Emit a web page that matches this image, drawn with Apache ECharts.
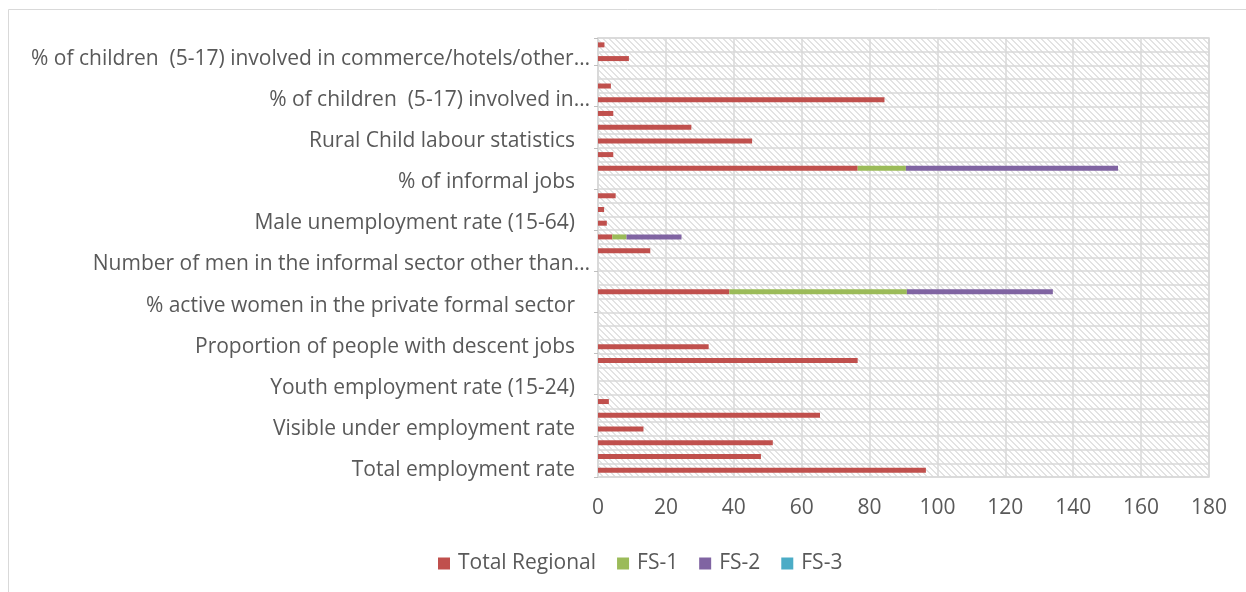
<!DOCTYPE html>
<html>
<head>
<meta charset="utf-8">
<script src="https://cdn.jsdelivr.net/npm/echarts@6/dist/echarts.min.js"></script>
<style>
  html, body { margin: 0; padding: 0; background: #ffffff; }
  #chart { width: 1246px; height: 592px; }
</style>
</head>
<body>
<div id="chart"></div>
<script>
// Indicator rows, bottom to top. Only every third row carries a visible label.
const categories = [
  'Total employment rate', '', '',
  'Visible under employment rate', '', '',
  'Youth employment rate (15-24)', '', '',
  'Proportion of people with descent jobs', '', '',
  '% active women in the private formal sector', '', '',
  'Number of men in the informal sector other than…', '', '',
  'Male unemployment rate (15-64)', '', '',
  '% of informal jobs', '', '',
  'Rural Child labour statistics', '', '',
  '% of children  (5-17) involved in…', '', '',
  '% of children  (5-17) involved in commerce/hotels/other…', ''
];

const totalRegional = [
  96.6, 48, 51.5, 13.4, 65.4, 3.2, null, null, 76.5, 32.6,
  null, null, null, 38.7, null, null, 15.4, 4.2, 2.6, 1.8,
  5.2, null, 76.5, 4.5, 45.4, 27.5, 4.5, 84.4, 3.8, null,
  9.1, 1.9
];

const fs1 = [
  null, null, null, null, null, null, null, null, null, null,
  null, null, null, 52.3, null, null, null, 4.2, null, null,
  null, null, 14.2, null, null, null, null, null, null, null,
  null, null
];

const fs2 = [
  null, null, null, null, null, null, null, null, null, null,
  null, null, null, 43, null, null, null, 16.2, null, null,
  null, null, 62.5, null, null, null, null, null, null, null,
  null, null
];

const fs3 = [
  null, null, null, null, null, null, null, null, null, null,
  null, null, null, null, null, null, null, null, null, null,
  null, null, null, null, null, null, null, null, null, null,
  null, null
];

const seriesNames = ['Total Regional', 'FS-1', 'FS-2', 'FS-3'];
const seriesColors = ['#C0504D', '#9BBB59', '#8064A2', '#4BACC6'];
const xTicks = { min: 0, max: 180, interval: 20 };

const FONT = '"Open Sans", Lato, sans-serif';
const FS = 21;
const TEXT = '#595959';
const GRID = '#d9d9d9';

// Downward-diagonal hatch used as the plot background
function hatchPattern() {
  const size = 6;
  const c = document.createElement('canvas');
  c.width = size; c.height = size;
  const ctx = c.getContext('2d');
  ctx.fillStyle = '#ffffff';
  ctx.fillRect(0, 0, size, size);
  ctx.fillStyle = '#e3e3e3';
  for (let y = 0; y < size; y++) {
    for (let x = 0; x < size; x++) {
      const d = ((x - y) % size + size) % size;
      if (d < 2) ctx.fillRect(x, y, 1, 1);
    }
  }
  return { image: c, repeat: 'repeat' };
}

const chart = echarts.init(document.getElementById('chart'), null, { renderer: 'canvas' });

const seriesData = [totalRegional, fs1, fs2, fs3];

chart.setOption({
  animation: false,
  backgroundColor: '#ffffff',
  textStyle: { fontFamily: FONT },
  graphic: [{
    type: 'rect',
    z: -10,
    shape: { x: 8.5, y: 9.5, width: 1250, height: 620 },
    style: { fill: 'none', stroke: GRID, lineWidth: 1 }
  }],
  grid: {
    left: 598, right: 37, top: 38, bottom: 115,
    show: true,
    backgroundColor: hatchPattern(),
    borderColor: GRID,
    borderWidth: 1.5
  },
  legend: {
    top: 548,
    left: 433,
    itemWidth: 12,
    itemHeight: 12,
    itemGap: 21,
    icon: 'rect',
    data: seriesNames,
    textStyle: { fontFamily: FONT, fontSize: FS, color: TEXT, padding: [0, 0, 0, 3] }
  },
  xAxis: {
    type: 'value',
    min: xTicks.min, max: xTicks.max, interval: xTicks.interval,
    axisLine: { show: false },
    axisTick: { show: false },
    axisLabel: { fontFamily: FONT, fontSize: FS, color: TEXT, margin: 21 },
    splitLine: { show: true, lineStyle: { color: GRID, width: 1.5 } }
  },
  yAxis: {
    type: 'category',
    data: categories,
    axisLine: { show: true, lineStyle: { color: GRID, width: 1.5 } },
    axisTick: { show: true, interval: 2, length: 4, lineStyle: { color: '#bfbfbf' } },
    splitLine: { show: true, interval: 0, lineStyle: { color: GRID, width: 1.5 } },
    axisLabel: {
      interval: 2,
      margin: 8,
      formatter: v => v.endsWith('…') ? '{a|' + v + '}' : '{a|' + v + '}{g| }',
      rich: {
        a: { fontFamily: FONT, fontSize: FS, color: TEXT },
        g: { width: 15, fontSize: FS }
      }
    }
  },
  series: seriesNames.map((name, i) => ({
    name,
    type: 'bar',
    stack: 'total',
    barWidth: 5,
    color: seriesColors[i],
    data: seriesData[i]
  }))
});
</script>
</body>
</html>
